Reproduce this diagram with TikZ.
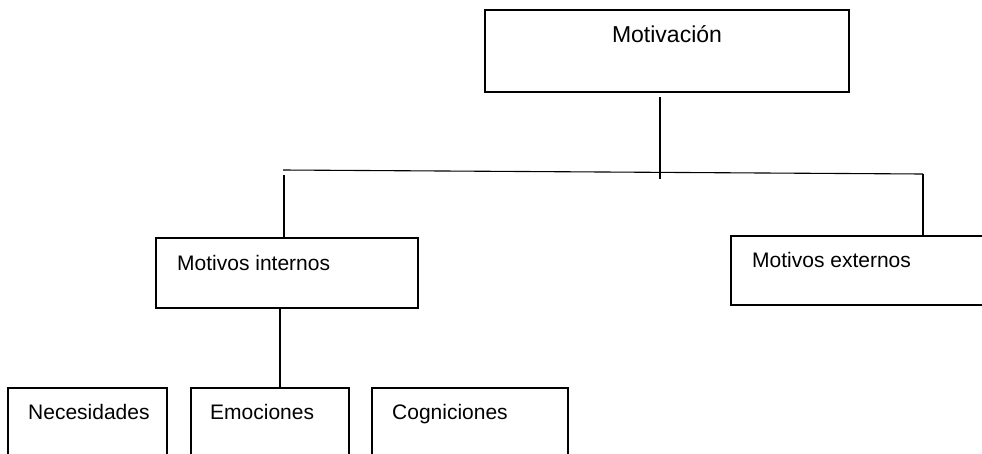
\documentclass[tikz,border=0pt]{standalone}
\usepackage{fontspec}
\setmainfont{Liberation Sans}
\begin{document}
\begin{tikzpicture}[x=1pt,y=-1pt,
  box/.style={draw=black,line width=1.4pt,fill=white,inner sep=0pt,outer sep=0pt},
  lbl/.style={inner sep=0pt,font=\fontsize{21}{24}\selectfont},
  conn/.style={draw=black,line width=1.1pt}]
\useasboundingbox (0,0) rectangle (982,453);
\clip (0,0) rectangle (982,453);
% boxes
\node[box,minimum width=364pt,minimum height=82pt] (mot) at (667,51) {};
\node[box,minimum width=262pt,minimum height=70pt] (mi) at (287,273) {};
\node[box,minimum width=300pt,minimum height=69pt] (me) at (881,270.5) {};
\node[box,minimum width=159pt,minimum height=100pt] (nec) at (87.5,438) {};
\node[box,minimum width=158pt,minimum height=100pt] (emo) at (270,438) {};
\node[box,minimum width=196pt,minimum height=100pt] (cog) at (470,438) {};
% labels
\node[lbl,anchor=base,font=\fontsize{23}{26}\selectfont] (tmot) at (667,42) {Motivación};
\node[lbl,anchor=base west] (tmi) at (177,270) {Motivos internos};
\node[lbl,anchor=base west] (tme) at (752,267) {Motivos externos};
\node[lbl,anchor=base west] (tnec) at (28,419) {Necesidades};
\node[lbl,anchor=base west] (temo) at (210,419) {Emociones};
\node[lbl,anchor=base west] (tcog) at (392,419) {Cogniciones};
% connector points
\coordinate (jtop) at (660,97);
\coordinate (jbot) at (660,179);
\coordinate (hl) at (283,170);
\coordinate (hr) at (923,174);
\coordinate (vl) at (284,175);
\coordinate (vm) at (280,308);
% connectors
\draw[conn] (jtop) -- (jbot);
\draw[conn] (hl) -- (hr);
\draw[conn] (vl) -- (vl |- mi.north);
\draw[conn] (hr) -- (hr |- me.north);
\draw[conn] (vm |- mi.south) -- (vm |- emo.north);
\end{tikzpicture}
\end{document}
